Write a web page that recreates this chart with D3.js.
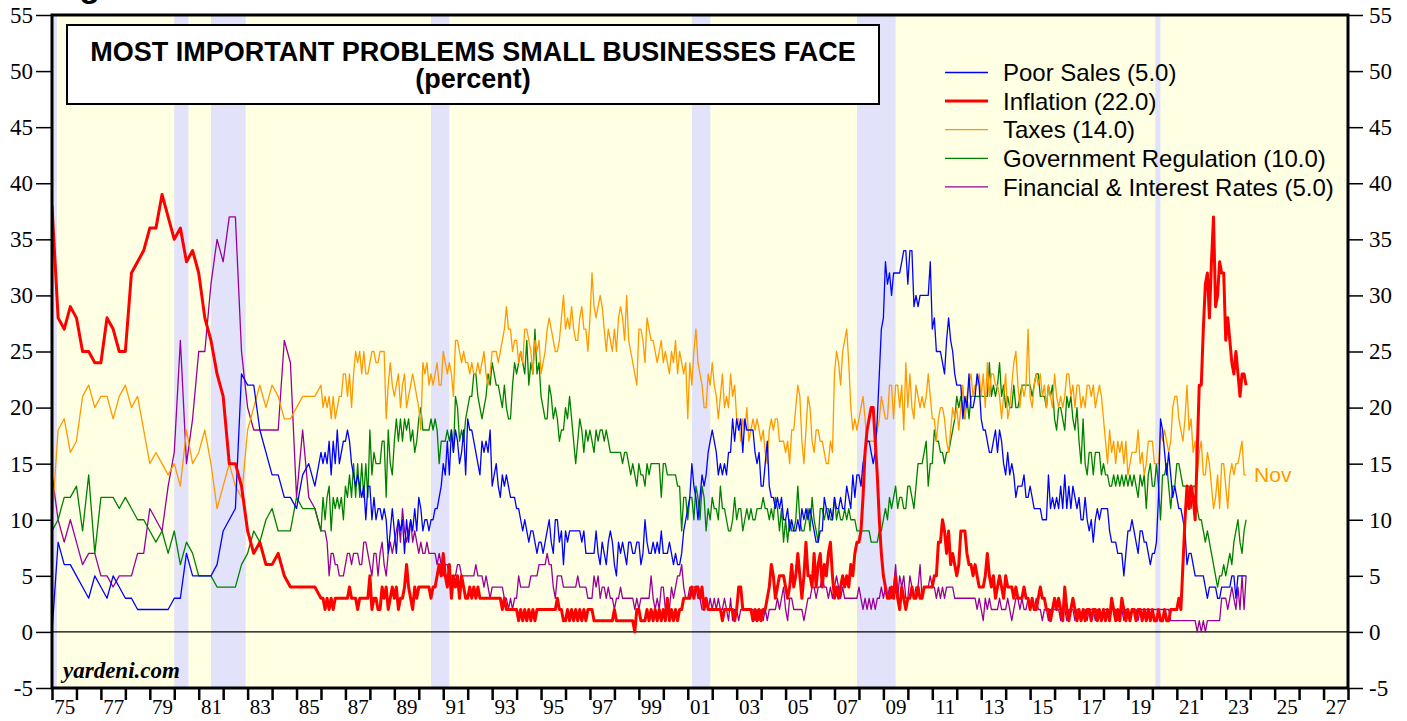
<!DOCTYPE html>
<html>
    <head>
        <title>Most Important Problems Small Businesses Face</title>
        <script src="https://d3js.org/d3.v7.min.js" charset="utf-8"></script>
        <style type="text/css">

            html,
            body {
                margin: 0;
                background: #fff;
            }

            svg {
                display: block;
            }

            .yaxis text,
            .xlabels text {
                font-family: "Liberation Serif", "Times New Roman", serif;
                fill: #000;
            }

        </style>
        <script>
            // ---------- data
            // 1975Q1..1985Q4 is quarterly, Jan 1986..Nov 2023 is monthly (percent)
            var quarterStart = 1975;
            var monthStart = 1986;

            var poorSalesQ = [0,8,6,6,5,4,3,5,4,3,5,4,3,3,2,2,2,2,2,2,3,3,7,5,5,5,5,6,9,10,11,23,22,22,18,16,14,14,12,12,11,14,15,13];
            var inflationQ = [38,28,27,29,28,25,25,24,24,28,27,25,25,32,33,34,36,36,39,37,35,36,33,34,32,28,26,23,21,15,15,13,9,7,8,6,6,7,5,4,4,4,4,4];
            var taxesQ = [10,18,19,16,17,21,22,20,21,21,19,21,22,20,21,18,15,16,15,14,15,13,18,15,16,18,15,11,13,15,13,12,18,20,22,20,22,21,19,19,20,21,21,21];
            var regulationQ = [9,10,12,12,13,9,14,7,12,12,12,11,12,11,10,10,9,8,9,7,9,6,8,7,5,5,5,4,4,4,4,6,7,9,8,10,11,9,9,9,12,11,11,11];
            var financeQ = [14,10,8,10,8,6,7,7,5,5,4,5,5,5,7,7,11,10,9,13,16,26,15,19,25,25,31,35,33,37,37,25,20,18,18,18,18,18,26,24,12,18,12,11];

            var poorSalesM = [
                16,15,16,15,17,14,17,15,18,15,16,17,
                17,18,17,15,14,13,14,13,12,13,10,13,
                13,10,12,10,11,11,10,11,10,7,9,11,
                9,7,10,9,10,7,10,8,10,9,11,9,
                12,11,9,10,10,9,10,10,11,11,12,13,
                15,14,17,14,18,16,18,17,15,16,18,14,
                19,18,18,17,16,15,14,17,16,17,16,18,
                13,14,15,13,12,14,13,14,13,12,12,12,
                11,11,10,9,10,9,8,9,9,8,7,8,
                8,7,8,9,10,8,7,10,10,8,9,6,
                9,8,9,9,9,9,9,9,8,9,7,7,
                7,7,7,9,7,6,8,7,6,8,9,8,
                6,5,8,7,8,7,6,8,8,7,7,8,
                8,6,7,10,8,7,7,8,7,8,7,9,
                7,7,7,8,7,6,7,6,6,7,9,10,
                11,12,15,13,12,10,12,14,13,14,16,17,
                18,17,16,14,15,14,15,14,16,16,19,17,
                19,18,19,16,19,18,18,18,18,16,15,16,
                13,13,15,17,13,12,12,11,12,11,12,10,
                10,11,9,10,9,9,10,9,11,10,11,10,
                11,10,9,8,8,9,9,12,11,10,11,10,
                12,11,11,12,11,11,13,12,11,14,12,14,
                14,13,15,16,17,17,16,15,16,19,23,27,
                28,33,31,32,30,32,32,32,32,33,34,34,
                31,34,34,29,30,29,30,30,30,30,30,33,
                27,28,25,25,25,24,23,26,28,26,25,23,
                22,22,22,19,21,20,23,20,20,21,23,22,
                19,18,18,17,16,16,17,18,16,18,17,15,
                14,16,14,15,14,12,13,13,13,14,12,12,
                13,12,11,11,11,11,10,10,10,14,11,12,
                11,12,11,13,11,14,11,13,11,13,12,11,
                12,10,10,12,10,9,10,8,10,11,10,11,
                11,11,11,9,8,8,8,7,7,7,5,7,
                9,9,10,9,8,7,9,9,8,8,7,6,
                7,7,8,12,19,18,16,14,16,14,12,13,
                12,11,11,10,9,6,7,7,6,5,5,5,
                5,5,4,3,4,4,4,4,3,3,4,4,
                4,4,4,5,5,3,5,5,5,5,5
            ];

            var inflationM = [
                3,3,2,3,2,3,2,3,3,3,3,3,
                3,3,4,3,3,3,2,3,3,3,3,3,
                5,2,3,3,2,2,4,3,4,2,3,4,
                3,4,2,3,3,4,6,4,3,2,4,3,
                4,4,4,4,4,4,3,4,4,5,6,5,
                7,5,4,6,3,5,4,5,3,5,4,3,
                3,4,3,4,3,4,3,3,3,3,3,3,
                3,3,3,3,3,2,3,2,2,2,2,2,
                2,1,2,1,2,1,2,1,2,1,2,2,
                2,2,2,2,2,2,2,2,3,2,2,1,
                1,2,1,2,1,2,1,2,1,2,1,2,
                2,2,1,1,1,1,1,1,1,1,1,1,
                2,1,1,1,1,1,1,1,1,1,0,2,
                2,1,1,1,2,1,2,1,2,1,2,1,
                2,1,3,1,2,1,2,1,2,2,3,3,
                3,3,4,3,4,4,3,4,2,3,2,2,
                2,2,2,2,2,1,2,2,2,2,2,1,
                2,4,4,2,2,2,2,2,1,2,1,2,
                1,2,2,3,4,6,5,3,4,5,5,5,
                4,3,4,6,4,5,7,5,3,5,8,5,
                5,4,7,4,6,7,4,6,5,7,8,5,
                3,4,3,4,5,4,5,4,6,5,7,8,
                8,9,12,16,18,19,20,20,17,14,10,7,
                5,4,3,3,4,3,5,3,2,4,3,2,
                3,3,4,3,3,4,3,3,4,4,4,4,
                4,5,5,8,8,10,9,7,9,6,7,6,
                5,6,9,9,9,7,6,6,5,6,5,4,
                4,4,5,7,5,4,5,3,4,5,4,3,
                5,4,4,4,3,4,3,3,3,4,3,3,
                2,3,2,2,3,4,3,3,2,2,1,2,
                3,2,3,2,1,4,2,1,2,3,2,1,
                2,1,2,1,2,2,1,2,2,1,2,1,
                2,1,2,1,3,2,1,2,1,3,2,1,
                2,1,2,2,1,2,2,1,2,1,2,1,
                2,1,1,2,1,1,2,1,1,2,2,2,
                2,3,2,6,10,13,11,13,12,10,16,22,
                22,27,31,32,28,33,37,29,30,33,32,32,
                26,28,26,24,23,25,23,21,23,23,22
            ];

            var taxesM = [
                22,20,21,20,21,19,21,19,20,21,21,23,
                23,21,23,20,23,25,24,25,23,25,23,23,
                24,25,25,24,24,25,25,25,19,22,24,22,
                21,22,23,20,22,23,20,21,22,23,22,21,
                20,18,24,23,24,22,23,22,23,24,22,22,
                25,24,23,24,23,21,26,26,25,24,25,24,
                24,23,24,23,23,24,23,24,25,23,22,23,
                25,25,25,24,25,26,27,29,27,27,25,26,
                26,24,25,24,27,27,26,25,23,26,25,26,
                23,24,25,27,28,27,26,25,25,26,28,30,
                27,28,27,29,27,26,26,28,29,27,27,25,
                28,32,29,28,29,30,29,27,25,27,26,25,
                27,25,28,29,28,26,30,26,25,24,23,22,
                27,27,26,24,28,27,26,26,25,24,25,26,
                24,25,24,23,25,24,26,23,25,24,23,24,
                19,24,22,25,27,24,23,22,20,20,23,22,
                24,22,21,19,21,23,20,21,20,23,21,22,
                19,19,17,19,18,20,17,18,19,18,19,18,
                17,18,16,15,18,19,18,19,19,17,17,17,
                16,17,15,18,18,20,22,21,17,15,18,21,
                20,17,16,18,18,17,17,16,15,15,17,16,
                23,25,24,22,25,26,27,24,20,18,19,18,
                19,20,21,19,17,17,17,17,17,18,19,21,
                20,19,19,22,22,19,22,22,20,22,18,24,
                20,23,20,19,22,21,20,21,20,21,23,21,
                19,19,17,19,20,20,19,17,16,18,20,19,
                20,18,20,22,19,21,22,23,21,22,22,23,
                21,23,20,24,21,23,23,22,22,21,19,21,
                23,19,20,22,24,25,22,20,22,21,22,27,
                21,20,22,23,22,23,21,22,20,22,21,20,
                23,21,20,21,20,21,23,23,21,22,20,22,
                22,20,21,20,22,22,21,22,20,21,22,21,
                19,17,15,18,16,17,15,17,16,17,15,17,
                14,15,16,16,16,18,15,16,14,15,17,17,
                17,15,15,15,18,17,18,17,16,17,20,21,
                21,19,18,17,19,22,18,19,16,17,14,16,
                17,14,14,16,15,13,11,12,14,11,15,15,
                13,11,14,15,14,15,15,16,17,14,14
            ];

            var regulationM = [
                9,12,10,12,13,9,12,11,12,11,12,10,
                13,12,14,12,15,12,15,12,15,12,15,12,
                18,14,16,15,15,15,17,17,12,18,15,14,
                17,19,17,19,17,19,18,19,17,18,16,17,
                19,20,18,18,18,18,19,18,19,18,15,17,
                17,17,18,17,18,16,21,20,17,18,17,19,
                20,21,21,23,23,21,20,19,20,21,23,22,
                24,23,22,22,21,20,22,20,19,19,22,24,
                23,24,25,24,23,26,22,24,23,27,23,24,
                21,20,19,19,22,21,19,20,19,17,18,18,
                20,19,21,19,17,15,17,19,18,16,18,17,
                18,17,16,18,17,18,18,17,18,17,16,16,
                16,16,16,16,15,16,16,15,14,15,14,13,
                15,14,14,13,15,14,15,15,15,15,15,12,
                15,15,14,14,14,14,14,13,13,9,12,12,
                10,12,12,10,13,12,10,13,12,9,11,10,
                12,11,11,10,13,11,11,10,9,9,10,12,
                10,11,11,9,10,11,10,11,10,10,11,11,
                11,12,11,11,10,11,10,12,11,9,11,8,
                10,8,10,9,9,10,13,10,9,9,10,11,
                9,12,10,9,8,11,11,10,11,11,10,10,
                12,10,11,10,10,11,10,11,10,10,10,9,
                9,9,9,9,9,9,8,8,8,8,9,9,
                10,11,10,12,11,12,13,11,12,12,11,11,
                13,13,12,11,13,15,15,15,16,17,13,15,
                15,18,17,17,16,16,15,16,16,17,18,19,
                21,20,21,20,19,21,19,21,21,21,21,21,
                21,21,21,21,24,21,22,21,22,24,21,22,
                20,21,20,20,22,20,20,21,22,22,22,22,
                22,21,22,23,23,21,21,21,20,22,21,22,
                19,18,20,20,19,18,21,20,21,19,18,20,
                17,15,19,15,14,16,16,14,16,16,16,14,
                15,14,14,13,13,14,13,14,13,14,13,14,
                13,14,13,14,13,12,14,13,14,11,14,15,
                13,13,15,13,10,14,14,15,13,11,13,13,
                15,15,14,13,13,13,13,11,13,13,11,10,
                10,9,8,9,8,7,6,5,4,5,5,6,
                5,6,7,6,8,9,10,8,7,9,10
            ];

            var financeM = [
                9,9,9,8,5,7,7,6,6,5,5,5,
                6,7,7,6,7,7,7,6,6,8,8,7,
                6,5,7,7,5,7,8,6,5,7,8,7,
                8,9,10,8,11,9,8,9,10,8,9,8,
                7,8,7,7,8,7,7,7,7,6,7,6,
                5,6,6,5,5,5,5,6,6,5,5,5,
                5,5,5,5,6,5,5,5,4,5,4,3,
                4,4,4,4,4,4,3,3,2,3,2,3,
                3,5,4,4,4,4,4,5,5,5,5,6,
                6,6,6,7,6,6,4,3,5,5,5,4,
                4,4,4,4,4,4,5,4,4,4,4,3,
                3,3,5,4,5,3,4,4,3,4,3,3,
                2,3,3,4,3,3,3,3,3,3,2,3,
                2,3,3,3,3,3,5,3,2,3,2,4,
                4,2,3,2,4,3,4,5,5,6,4,3,
                3,4,4,4,4,3,3,2,2,3,2,3,
                2,3,2,3,2,2,3,2,1,3,1,2,
                2,1,2,2,2,2,2,2,2,1,2,1,
                2,1,2,1,2,2,2,2,3,2,3,4,
                2,1,3,3,2,2,2,2,2,1,2,3,
                3,4,4,3,4,4,5,4,4,3,4,3,
                4,5,4,3,4,3,3,3,3,3,3,3,
                4,3,2,3,2,3,2,3,2,3,3,4,
                3,4,3,4,3,4,6,3,5,4,5,3,
                3,5,4,3,4,4,6,3,4,4,4,5,
                4,4,3,4,3,4,3,4,4,4,4,3,
                3,3,3,3,3,3,3,3,3,3,2,3,
                2,1,3,2,3,2,2,2,2,3,2,2,
                2,3,2,1,2,3,3,2,3,2,2,3,
                2,3,2,3,2,2,1,2,2,1,2,2,
                2,2,2,1,2,2,1,2,2,2,1,2,
                2,1,2,2,1,2,2,2,1,2,2,1,
                2,2,2,1,2,2,2,1,2,2,1,2,
                2,1,2,2,2,1,2,2,2,2,2,2,
                2,2,2,2,2,2,2,2,2,1,1,1,
                1,1,1,1,1,1,1,1,1,1,0,1,
                0,1,0,1,1,1,1,1,1,1,3,3,
                3,2,3,4,3,2,4,2,5,2,5
            ];

            // recessions, start / end as decimal years
            var recessions = [
                [1973.83, 1975.2],
                [1980.0, 1980.58],
                [1981.5, 1982.92],
                [1990.5, 1991.25],
                [2001.17, 2001.92],
                [2007.92, 2009.5],
                [2020.12, 2020.33]
            ];

            var yTickValues = [-5, 0, 5, 10, 15, 20, 25, 30, 35, 40, 45, 50, 55];
            var xLabelYears = [1975, 1977, 1979, 1981, 1983, 1985, 1987, 1989, 1991, 1993,
                               1995, 1997, 1999, 2001, 2003, 2005, 2007, 2009, 2011, 2013,
                               2015, 2017, 2019, 2021, 2023, 2025, 2027];

            // ----------
            App = {
                width: 1407,
                height: 721,
                left: 52,
                right: 1348,
                top: 15,
                bottom: 688,

                build: function(q, m) {
                    var pts = q.map(function(v, i) {
                        return { t: quarterStart + i / 4, v: v };
                    });
                    m.forEach(function(v, i) {
                        pts.push({ t: monthStart + i / 12, v: v });
                    });
                    return pts;
                },

                init: function() {
                    var self = this;

                    var series = [
                        { name: "Poor Sales", q: poorSalesQ, m: poorSalesM, color: "#0000ff", w: 1.3, z: 3 },
                        { name: "Inflation", q: inflationQ, m: inflationM, color: "#ff0000", w: 3, z: 4 },
                        { name: "Taxes", q: taxesQ, m: taxesM, color: "#ff9900", w: 1.3, z: 2 },
                        { name: "Government Regulation", q: regulationQ, m: regulationM, color: "#008000", w: 1.3, z: 1 },
                        { name: "Financial & Interest Rates", q: financeQ, m: financeM, color: "#990099", w: 1.3, z: 0 }
                    ];
                    series.forEach(function(s) {
                        s.points = self.build(s.q, s.m);
                    });

                    var x = d3.scaleLinear().domain([1975, 2028]).range([this.left, this.right]);
                    var y = d3.scaleLinear().domain([-5, 55]).range([this.bottom, this.top]);

                    var svg = d3.select("#chart").append("svg")
                        .attr("width", this.width)
                        .attr("height", this.height);

                    svg.append("rect")
                        .attr("width", this.width)
                        .attr("height", this.height)
                        .style("fill", "#fff");

                    // heading above the frame, mostly outside the picture
                    svg.append("text")
                        .attr("x", 49)
                        .attr("y", -3)
                        .style("font-family", "'Liberation Sans', Arial, sans-serif")
                        .style("font-weight", "bold")
                        .style("font-size", "34px")
                        .text("Figure 1.");

                    svg.append("clipPath").attr("id", "plotclip")
                        .append("rect")
                        .attr("x", this.left)
                        .attr("y", this.top)
                        .attr("width", this.right - this.left)
                        .attr("height", this.bottom - this.top);

                    svg.append("rect")
                        .attr("x", this.left)
                        .attr("y", this.top)
                        .attr("width", this.right - this.left)
                        .attr("height", this.bottom - this.top)
                        .style("fill", "#ffffe4");

                    svg.append("g").attr("clip-path", "url(#plotclip)")
                        .selectAll("rect")
                        .data(recessions)
                        .enter().append("rect")
                        .attr("x", function(d) { return x(d[0]); })
                        .attr("width", function(d) { return x(d[1]) - x(d[0]); })
                        .attr("y", this.top)
                        .attr("height", this.bottom - this.top)
                        .style("fill", "#e2e2fa");

                    svg.append("line")
                        .attr("x1", this.left).attr("x2", this.right)
                        .attr("y1", y(0)).attr("y2", y(0))
                        .style("stroke", "#000")
                        .style("stroke-width", 1.2);

                    // title box
                    svg.append("rect")
                        .attr("x", 67).attr("y", 25)
                        .attr("width", 812).attr("height", 79)
                        .style("fill", "#fff")
                        .style("stroke", "#000")
                        .style("stroke-width", 2);

                    var titleStyle = function(t) {
                        t.attr("text-anchor", "middle")
                            .style("font-family", "'Liberation Sans', Arial, sans-serif")
                            .style("font-weight", "bold")
                            .style("font-size", "27px");
                    };
                    svg.append("text").attr("x", 473).attr("y", 61)
                        .call(titleStyle)
                        .text("MOST IMPORTANT PROBLEMS SMALL BUSINESSES FACE");
                    svg.append("text").attr("x", 473).attr("y", 88)
                        .call(titleStyle)
                        .text("(percent)");

                    var line = d3.line()
                        .x(function(d) { return x(d.t); })
                        .y(function(d) { return y(d.v); });

                    svg.append("g").attr("clip-path", "url(#plotclip)")
                        .selectAll("path")
                        .data(series.slice().sort(function(a, b) { return a.z - b.z; }))
                        .enter().append("path")
                        .attr("d", function(d) { return line(d.points); })
                        .style("fill", "none")
                        .style("stroke", function(d) { return d.color; })
                        .style("stroke-width", function(d) { return d.w; })
                        .style("stroke-linejoin", "round");

                    // legend
                    var legend = svg.append("g").selectAll("g")
                        .data(series)
                        .enter().append("g")
                        .attr("transform", function(d, i) { return "translate(0," + (72.5 + i * 28.6) + ")"; });
                    legend.append("line")
                        .attr("x1", 945).attr("x2", 988)
                        .style("stroke", function(d) { return d.color; })
                        .style("stroke-width", function(d) { return d.w; });
                    legend.append("text")
                        .attr("x", 1003)
                        .attr("dy", "0.36em")
                        .style("font-family", "'Liberation Sans', Arial, sans-serif")
                        .style("font-size", "24px")
                        .style("fill", "#000")
                        .text(function(d) {
                            return d.name + " (" + d.m[d.m.length - 1].toFixed(1) + ")";
                        });

                    var lastTax = series[2].points[series[2].points.length - 1];
                    svg.append("text")
                        .attr("x", x(lastTax.t) + 8)
                        .attr("y", 482)
                        .style("font-family", "'Liberation Sans', Arial, sans-serif")
                        .style("font-size", "21px")
                        .style("fill", "#ff9900")
                        .text("Nov");

                    svg.append("text")
                        .attr("x", 63)
                        .attr("y", 678)
                        .style("font-family", "'Liberation Serif', 'Times New Roman', serif")
                        .style("font-weight", "bold")
                        .style("font-style", "italic")
                        .style("font-size", "23px")
                        .text("yardeni.com");

                    // axes
                    var plain = function(d) { return String(d); };
                    var left = svg.append("g")
                        .attr("class", "yaxis")
                        .attr("transform", "translate(" + this.left + ",0)")
                        .call(d3.axisLeft(y).tickValues(yTickValues).tickFormat(plain).tickSize(16).tickPadding(3));
                    var right = svg.append("g")
                        .attr("class", "yaxis")
                        .attr("transform", "translate(" + this.right + ",0)")
                        .call(d3.axisRight(y).tickValues(yTickValues).tickFormat(plain).tickSize(15).tickPadding(6));
                    [left, right].forEach(function(g) {
                        g.select(".domain").remove();
                        g.selectAll("line").style("stroke", "#000").style("stroke-width", 1.5);
                        g.selectAll("text").style("font-size", "23px");
                    });

                    var ticks = svg.append("g")
                        .attr("transform", "translate(0," + this.bottom + ")")
                        .call(d3.axisBottom(x).tickValues(d3.range(1975, 2029)).tickSize(12).tickFormat(""));
                    ticks.select(".domain").remove();
                    ticks.selectAll("line").style("stroke", "#000").style("stroke-width", 2.5);

                    var labels = svg.append("g")
                        .attr("class", "xlabels")
                        .attr("transform", "translate(0," + this.bottom + ")")
                        .call(d3.axisBottom(x)
                            .tickValues(xLabelYears.map(function(yr) { return yr + 0.5; }))
                            .tickSize(0).tickPadding(11)
                            .tickFormat(function(d) { return String(Math.floor(d)).slice(2); }));
                    labels.select(".domain").remove();
                    labels.selectAll("text").style("font-size", "21px");

                    // frame
                    svg.append("rect")
                        .attr("x", this.left)
                        .attr("y", this.top)
                        .attr("width", this.right - this.left)
                        .attr("height", this.bottom - this.top)
                        .style("fill", "none")
                        .style("stroke", "#000")
                        .style("stroke-width", 3);
                }
            };

            // ----------
            document.addEventListener("DOMContentLoaded", function() {
                App.init();
            });

        </script>
    </head>
    <body>
        <div id="chart"></div>
    </body>
</html>
